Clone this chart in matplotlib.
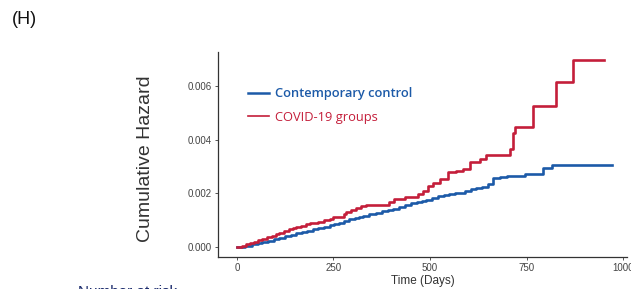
import matplotlib
matplotlib.use("Agg")
import matplotlib.pyplot as plt
from matplotlib.lines import Line2D

# Data
red_t = [0, 12, 23, 35, 45, 55, 66, 78, 90, 100, 110, 122, 135, 145, 152, 165, 178, 188, 196, 210,
         225, 240, 250, 265, 276, 282, 295, 309, 320, 335, 382, 395, 408, 434, 468, 482, 495, 508,
         525, 547, 568, 585, 603, 629, 646, 707, 714, 720, 766, 826, 871, 951]
red_h = [0, 0.00004, 0.0001, 0.00016, 0.0002, 0.00026, 0.00031, 0.00037, 0.00043, 0.00049, 0.00054,
         0.0006, 0.00066, 0.00071, 0.00076, 0.0008, 0.00085, 0.00088, 0.00091, 0.00095, 0.001,
         0.00106, 0.00111, 0.00113, 0.00122, 0.0013, 0.00137, 0.00147, 0.00152, 0.00155, 0.00158,
         0.00168, 0.00178, 0.00188, 0.00196, 0.00209, 0.00227, 0.0024, 0.00252, 0.0028, 0.00283,
         0.00292, 0.00317, 0.00329, 0.00342, 0.00364, 0.00426, 0.00447, 0.00527, 0.00615, 0.00697,
         0.00697]

blue_t = [0, 20, 40, 55, 66, 80, 95, 110, 125, 140, 152, 168, 182, 196, 210, 225, 240, 252, 265,
          278, 291, 305, 317, 326, 343, 360, 375, 390, 404, 420, 435, 450, 465, 480, 490, 505, 520,
          535, 550, 565, 577, 590, 605, 620, 635, 650, 663, 680, 700, 747, 793, 816, 970]
blue_h = [0, 0.00005, 0.00011, 0.00015, 0.00019, 0.00024, 0.0003, 0.00035, 0.0004, 0.00046, 0.00051,
          0.00056, 0.00061, 0.00066, 0.0007, 0.00075, 0.00081, 0.00085, 0.00091, 0.00098, 0.00106,
          0.0011, 0.00113, 0.00116, 0.00122, 0.00128, 0.00134, 0.0014, 0.00143, 0.0015, 0.00157,
          0.00163, 0.00168, 0.00172, 0.00175, 0.00182, 0.00189, 0.00193, 0.00196, 0.002, 0.00203,
          0.0021, 0.00215, 0.00221, 0.00225, 0.00234, 0.00259, 0.00263, 0.00265, 0.00274, 0.00296,
          0.00307, 0.00307]

series_labels = ["Contemporary control", "COVID-19 groups"]
x_ticks = [0, 250, 500, 750, 1000]
y_ticks = [0.000, 0.002, 0.004, 0.006]
y_tick_labels = ["0.000", "0.002", "0.004", "0.006"]

BLUE = "#1c5aa8"
RED = "#c41e3a"

fig = plt.figure(figsize=(6.31, 2.89), dpi=100)
ax = fig.add_axes([218 / 631, 32 / 289, (627 - 218) / 631, (257 - 52) / 289])

ax.plot(blue_t, blue_h, drawstyle="steps-post", color=BLUE, lw=1.9)
ax.plot(red_t, red_h, drawstyle="steps-post", color=RED, lw=1.9)

ax.set_xlim(-49, 1010)
ax.set_ylim(-0.00037, 0.00727)
ax.set_xticks(x_ticks)
ax.set_xticklabels([str(v) for v in x_ticks])
ax.set_yticks(y_ticks)
ax.set_yticklabels(y_tick_labels)

for s in ["top", "right"]:
    ax.spines[s].set_visible(False)
for s in ["left", "bottom"]:
    ax.spines[s].set_color("#333333")
    ax.spines[s].set_linewidth(0.9)
ax.tick_params(axis="both", length=2.5, width=0.7, color="#555555", labelcolor="#444444",
               labelsize=7, pad=2)
for lbl in ax.get_xticklabels() + ax.get_yticklabels():
    lbl.set_family("Liberation Sans")

ax.set_xlabel("Time (Days)", fontsize=8.5, family="Liberation Sans", color="#333333", labelpad=1)
fig.text(145 / 631, 1 - 159 / 289, "Cumulative Hazard", rotation=90, ha="center", va="center",
         fontsize=14, family="Liberation Sans", color="#333333")

handles = [Line2D([], [], color=BLUE, lw=1.8), Line2D([], [], color=RED, lw=1.2)]
leg = ax.legend(handles, series_labels, loc="upper left", bbox_to_anchor=(0.045, 0.885),
                frameon=False, handlelength=1.6, handletextpad=0.5, labelspacing=0.8,
                prop={"family": "Open Sans", "size": 9.3})
texts = leg.get_texts()
texts[0].set_color(BLUE)
texts[0].set_fontweight("semibold")
texts[1].set_color(RED)

fig.text(12 / 631, 1 - 20 / 289, "(H)", fontsize=13, family="Liberation Sans", va="center",
         ha="left", color="#111111")
fig.text(78 / 631, 1 - 284.5 / 289, "Number at risk", fontsize=11, family="Liberation Sans",
         va="top", ha="left", color="#1a2a6c")

fig.savefig("out.png", dpi=100)
